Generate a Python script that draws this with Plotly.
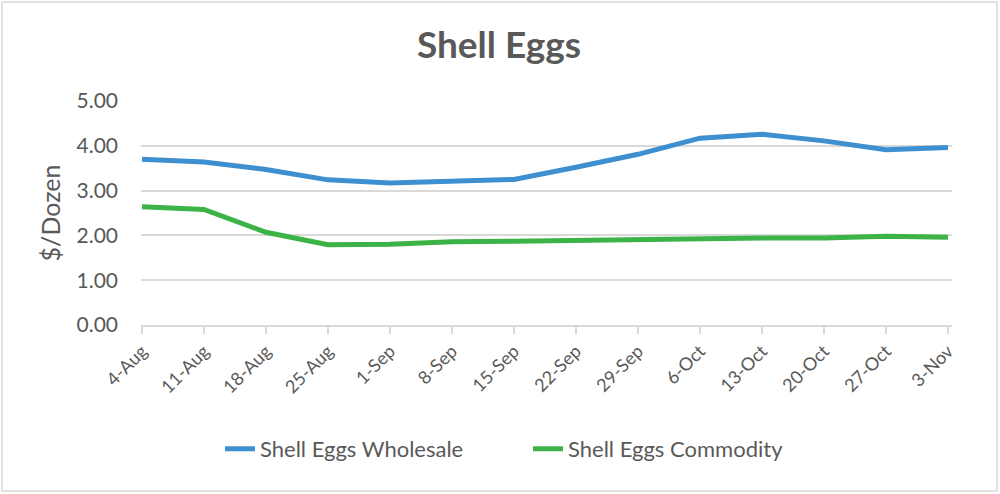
import plotly.graph_objects as go

dates = ["4-Aug", "11-Aug", "18-Aug", "25-Aug", "1-Sep", "8-Sep", "15-Sep", "22-Sep",
         "29-Sep", "6-Oct", "13-Oct", "20-Oct", "27-Oct", "3-Nov"]
wholesale = [3.70, 3.64, 3.47, 3.24, 3.17, 3.20, 3.25, 3.52, 3.81, 4.17, 4.26, 4.11, 3.91, 3.96]
commodity = [2.64, 2.58, 2.07, 1.79, 1.80, 1.86, 1.87, 1.89, 1.91, 1.93, 1.94, 1.94, 1.98, 1.96]
y_ticks = [0, 1, 2, 3, 4, 5]
y_labels = ["0.00", "1.00", "2.00", "3.00", "4.00", "5.00"]

FONT = "Lato"
GRAY = "#595959"
LIGHT = "#D9D9D9"

fig = go.Figure()
fig.add_trace(go.Scatter(x=dates, y=wholesale, mode="lines", name="Shell Eggs Wholesale",
                         line=dict(color="#3E8FCF", width=5)))
fig.add_trace(go.Scatter(x=dates, y=commodity, mode="lines", name="Shell Eggs Commodity",
                         line=dict(color="#3BB346", width=5)))

fig.update_layout(
    width=1000, height=494,
    paper_bgcolor="white", plot_bgcolor="white",
    margin=dict(l=141, r=48, t=101, b=169, autoexpand=False),
    title=dict(text="<b>Shell Eggs</b>", x=0.499, xanchor="center", y=0.909, yanchor="middle",
               font=dict(family=FONT, size=37, color=GRAY)),
    font=dict(family=FONT, color=GRAY),
    showlegend=True,
    legend=dict(orientation="h", x=0.0974, xanchor="left",
                y=-0.553, yanchor="middle",
                font=dict(family=FONT, size=22, color=GRAY),
                entrywidth=263, entrywidthmode="pixels"),
    shapes=[dict(type="rect", xref="paper", yref="paper", x0=-0.1714, x1=1.0555, y0=-0.741, y1=1.442,
                 line=dict(color=LIGHT, width=1.5), layer="below")],
)
fig.update_xaxes(type="category", range=[-0.016, 13.065], showgrid=False,
                 showline=True, linecolor=LIGHT, linewidth=1.5,
                 ticks="outside", ticklen=7, tickcolor=LIGHT, tickwidth=1.5,
                 tickangle=-45, tickfont=dict(family=FONT, size=18, color=GRAY))
fig.update_yaxes(range=[0, 5], tickvals=y_ticks, ticktext=y_labels, showgrid=True,
                 gridcolor=LIGHT, gridwidth=1.5, zeroline=False, showline=False,
                 ticks="", ticklabelstandoff=22,
                 tickfont=dict(family=FONT, size=21, color=GRAY),
                 title=dict(text="$/Dozen", font=dict(family=FONT, size=25, color=GRAY), standoff=8))

fig.write_html("out.html", config={"displayModeBar": False},
               post_script="document.body.style.margin='0';")
